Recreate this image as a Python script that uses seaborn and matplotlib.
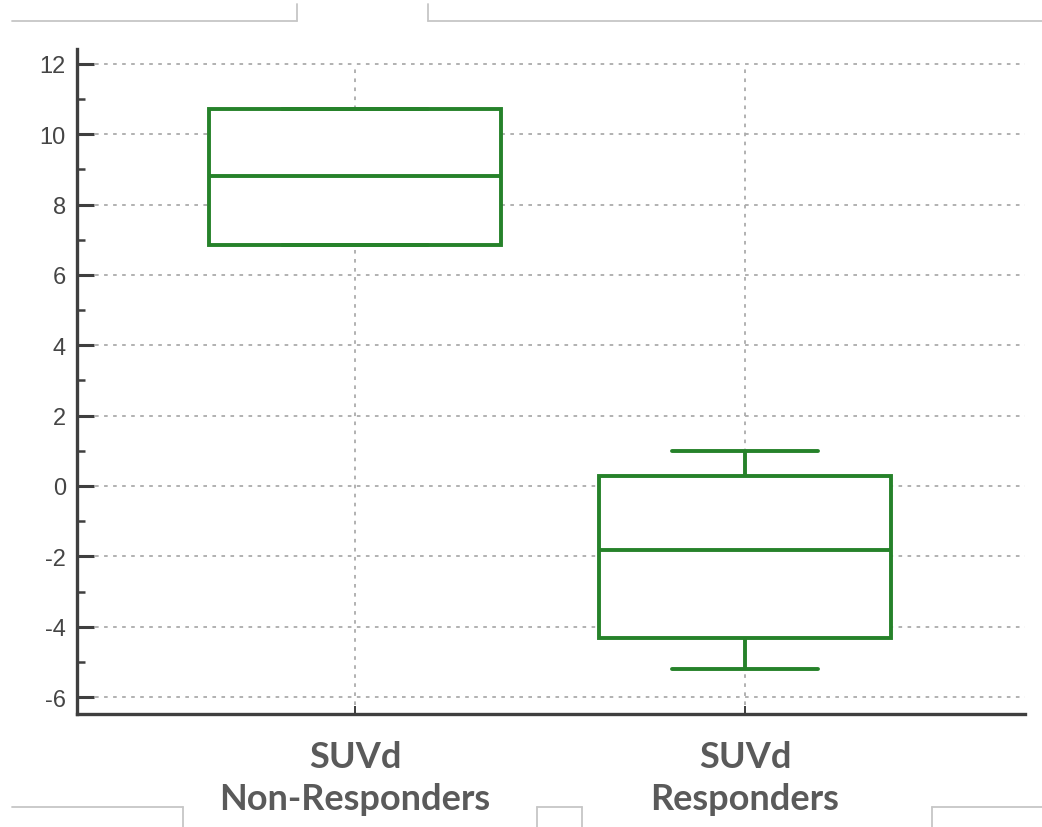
import matplotlib
matplotlib.use("Agg")
import matplotlib.pyplot as plt
from matplotlib.lines import Line2D
from matplotlib.ticker import MultipleLocator
import seaborn as sns
import pandas as pd

# Five-number summaries per group (min, Q1, median, Q3, max)
groups = ["SUVd\nNon-Responders", "SUVd\nResponders"]
non_responders = [6.85, 6.85, 8.81, 10.72, 10.72]
responders = [-5.2, -4.32, -1.82, 0.28, 0.99]
y_ticks = [-6, -4, -2, 0, 2, 4, 6, 8, 10, 12]

df = pd.DataFrame({
    "group": [groups[0]] * len(non_responders) + [groups[1]] * len(responders),
    "value": non_responders + responders,
})

sns.set_theme(style="white")
plt.rcParams["font.family"] = ["Liberation Sans", "DejaVu Sans"]

green = "#26822a"
y_lo, y_hi = -6.48, 12.42

fig = plt.figure(figsize=(10.42, 8.28), dpi=100)
ax = fig.add_axes([77 / 1042, 1 - 715 / 828, (1025 - 77) / 1042, (715 - 50) / 828])

# dotted reference grid behind the boxes
grid_kw = dict(color="#ababab", linestyle=(0, (2, 3)), linewidth=1.3, zorder=0)
for yv in y_ticks:
    ax.axhline(yv, **grid_kw)
ax.vlines(range(len(groups)), y_lo, max(y_ticks), **grid_kw)

sns.boxplot(
    data=df, x="group", y="value", order=groups, ax=ax,
    width=0.75, whis=1.5, showfliers=False,
    color="white", linecolor=green, linewidth=2.8,
    boxprops=dict(facecolor="white", zorder=2),
    medianprops=dict(color=green, zorder=3),
    whiskerprops=dict(color=green, zorder=3),
    capprops=dict(color=green, zorder=3),
)

ax.set_xlim(-0.713, 1.718)
ax.set_ylim(y_lo, y_hi)
ax.set_xlabel("")
ax.set_ylabel("")

ax.yaxis.set_minor_locator(MultipleLocator(1))
ax.set_yticks(y_ticks)
ax.set_yticklabels([str(v) for v in y_ticks], fontsize=17, color="#454545")

for side in ("top", "right"):
    ax.spines[side].set_visible(False)
for side in ("left", "bottom"):
    ax.spines[side].set_color("#3f3f3f")
    ax.spines[side].set_linewidth(2.4)

ax.tick_params(axis="y", which="major", direction="in", length=12, width=2.2,
               color="#3f3f3f", pad=8, left=True)
ax.tick_params(axis="y", which="minor", direction="in", length=6, width=1.8,
               color="#3f3f3f", left=True)
ax.tick_params(axis="x", which="major", direction="in", length=6, width=1.4,
               color="#3f3f3f", pad=19, bottom=True)

for lbl in ax.get_xticklabels():
    lbl.set_fontfamily(["Lato", "DejaVu Sans"])
    lbl.set_fontweight("bold")
    lbl.set_fontsize(26)
    lbl.set_color("#5a5a5a")
    lbl.set_linespacing(1.32)

# thin slide frame fragments around the figure
frame_kw = dict(color="#c6c6c6", linewidth=1.3, transform=fig.transFigure)
W, H = 1042, 828
def seg(x0, y0, x1, y1):
    fig.add_artist(Line2D([x0 / W, x1 / W], [1 - y0 / H, 1 - y1 / H], **frame_kw))

seg(12, 22, 297, 22); seg(297, 22, 297, 5)
seg(428, 5, 428, 22); seg(428, 22, 1042, 22)
seg(12, 808, 183, 808); seg(183, 808, 183, 828)
seg(537, 828, 537, 808); seg(537, 808, 582, 808); seg(582, 808, 582, 828)
seg(932, 828, 932, 808); seg(932, 808, 1042, 808)

fig.savefig("out.png", dpi=100, facecolor="white")
